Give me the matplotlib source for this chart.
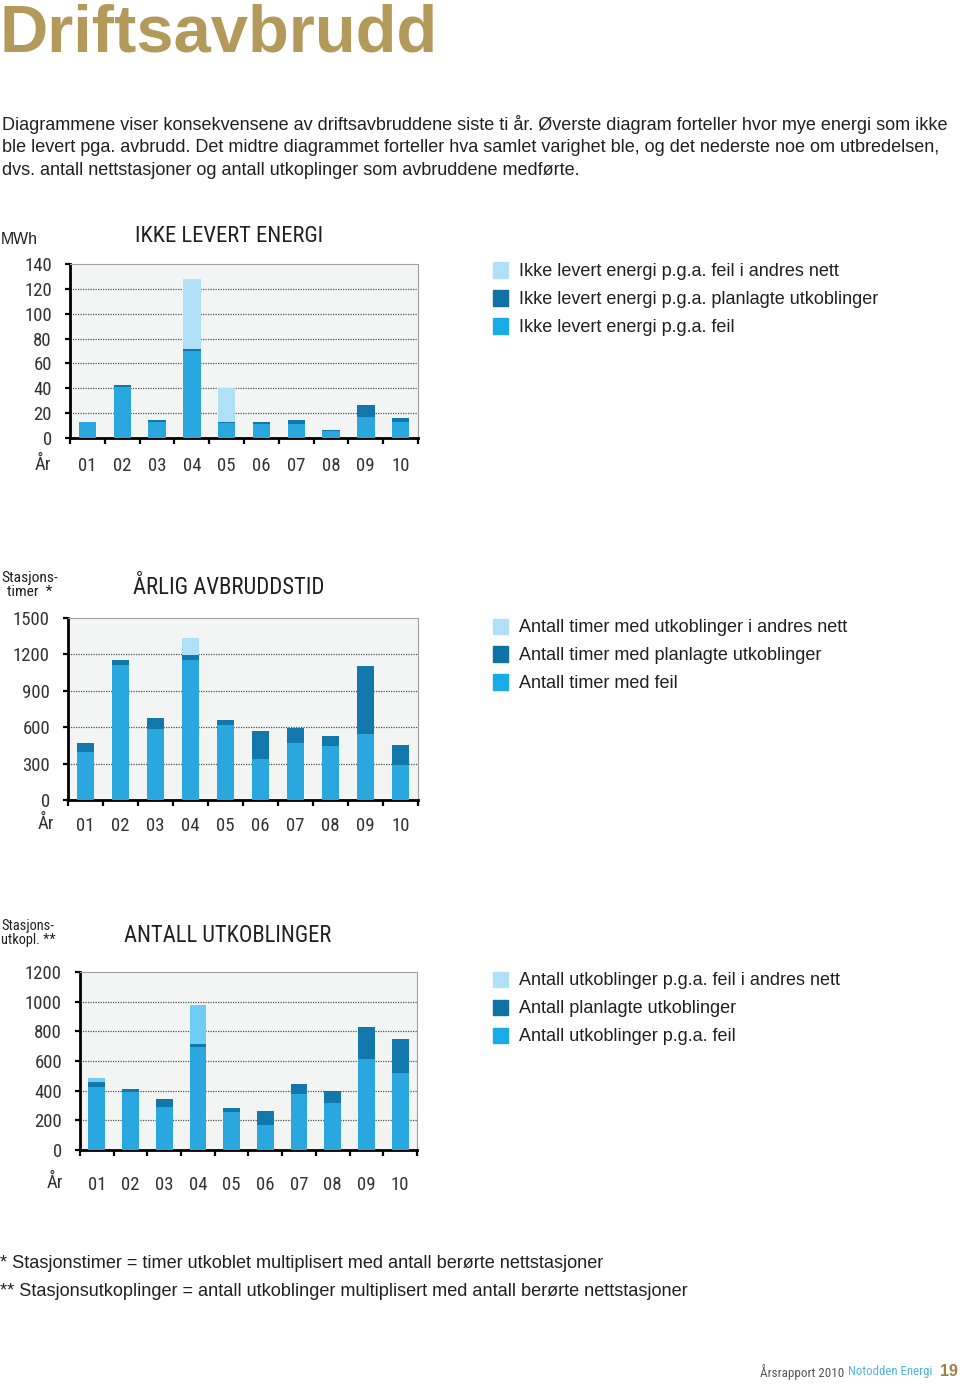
import matplotlib
matplotlib.use("Agg")
import matplotlib.pyplot as plt
from matplotlib.patches import Rectangle
from matplotlib import font_manager as fm
import numpy as np

# ---------------- data ----------------
years = ['01', '02', '03', '04', '05', '06', '07', '08', '09', '10']

energy_feil = [12.5, 41.0, 12.8, 70.1, 11.8, 11.0, 11.5, 5.6, 17.1, 12.8]
energy_plan = [0.3, 1.3, 1.9, 1.3, 1.3, 1.9, 2.9, 1.1, 9.4, 3.5]
energy_andre = [0, 0, 0, 56.5, 26.8, 0, 0, 0, 0, 0]
energy_ticks = [0, 20, 40, 60, 80, 100, 120, 140]

hours_feil = [399, 1115, 584, 1150, 622, 339, 468, 449, 542, 286]
hours_plan = [74, 36, 88, 47, 41, 228, 124, 77, 559, 165]
hours_andre = [0, 0, 0, 138, 0, 0, 0, 0, 0, 0]
hours_ticks = [0, 300, 600, 900, 1200, 1500]

outages_feil = [422, 390, 292, 695, 253, 166, 379, 314, 612, 520]
outages_plan = [36, 22, 54, 22, 27, 96, 67, 81, 218, 231]
outages_andre = [25, 0, 0, 258, 0, 0, 0, 0, 0, 0]
outages_ticks = [0, 200, 400, 600, 800, 1000, 1200]

legend1 = ['Ikke levert energi p.g.a. feil i andres nett',
           'Ikke levert energi p.g.a. planlagte utkoblinger',
           'Ikke levert energi p.g.a. feil']
legend2 = ['Antall timer med utkoblinger i andres nett',
           'Antall timer med planlagte utkoblinger',
           'Antall timer med feil']
legend3 = ['Antall utkoblinger p.g.a. feil i andres nett',
           'Antall planlagte utkoblinger',
           'Antall utkoblinger p.g.a. feil']

# ---------------- fonts ----------------
REG = fm.FontProperties(family=['Liberation Sans', 'DejaVu Sans'])
REGB = fm.FontProperties(family=['Liberation Sans', 'DejaVu Sans'], weight='bold')


def find_narrow():
    best = None
    for f in fm.fontManager.ttflist:
        nm = f.name + ' ' + f.fname
        narrow = ('Narrow' in nm or 'Condensed' in nm or
                  f.stretch in ('condensed', 'semi-condensed', 'extra-condensed'))
        if not narrow:
            continue
        if 'Bold' in f.fname or 'Italic' in f.fname or 'Oblique' in f.fname or 'Mono' in f.fname:
            continue
        if 'Serif' in f.fname:
            continue
        score = 0
        if 'Liberation' in nm:
            score = 3
        elif 'Roboto' in nm or 'Open' in nm:
            score = 2
        elif 'DejaVu' in nm:
            score = 1
        if best is None or score > best[0]:
            best = (score, f.fname)
    if best:
        return fm.FontProperties(fname=best[1])
    return fm.FontProperties(family=['Liberation Sans', 'DejaVu Sans'])


NARROW = find_narrow()

# ---------------- style ----------------
W, H = 960, 1385
C_FEIL = '#2ba7df'
C_PLAN = '#1278ab'
C_ANDRE = '#afe0f7'
C_ANDRE3 = '#6fcdf4'
L_FEIL = '#18abe8'
L_PLAN = '#0f72a5'
L_ANDRE = '#b0e0f8'
TXT = '#231f20'

fig = plt.figure(figsize=(W / 100, H / 100), dpi=100)
fig.patch.set_facecolor('white')
renderer = fig.canvas.get_renderer()


def fx(px):
    return px / W


def fy(py):
    return 1 - py / H


def px2pt(p):
    return p * 72 / 100


def fit(t, target_w, max_size=None):
    w = t.get_window_extent(renderer=renderer).width
    s = t.get_fontsize() * target_w / w
    if max_size:
        s = min(s, max_size)
    t.set_fontsize(s)
    return t


def make_chart(box, feil, plan, andre, c_andre, ticks, title, title_x, title_w, title_y,
               ylab, ylab_font, ylab_w, ylab_y, xlab_pad, ar_xy, legend, legend_y):
    l, t, r, b = box
    ax = fig.add_axes([fx(l), fy(b), fx(r - l), (b - t) / H])
    ax.set_facecolor('#f3f4f4')
    x = np.arange(len(years))
    feil = np.array(feil, float)
    plan = np.array(plan, float)
    andre = np.array(andre, float)
    ax.bar(x, feil, width=0.5, color=C_FEIL, zorder=3)
    ax.bar(x, plan, width=0.5, bottom=feil, color=C_PLAN, zorder=3)
    ax.bar(x, andre, width=0.5, bottom=feil + plan, color=c_andre, zorder=3)
    ax.set_xlim(-0.5, len(years) - 0.5)
    ax.set_ylim(ticks[0], ticks[-1])
    ax.set_yticks(ticks)
    ax.set_yticklabels([str(v) for v in ticks], fontproperties=NARROW, fontsize=13.5, color='#333333')
    for v in ticks[1:-1]:
        ax.axhline(v, color='#555555', lw=0.9, ls=(0, (1, 1)), zorder=1)
    ax.set_xticks(x)
    ax.set_xticklabels(years, fontproperties=NARROW, fontsize=13.5, color='#333333')
    ax.set_xticks(np.arange(-0.5, len(years), 1.0), minor=True)
    ax.tick_params(axis='x', which='major', length=0, pad=px2pt(xlab_pad))
    ax.tick_params(axis='x', which='minor', length=px2pt(6), width=1.6,
                   direction='out', color='black')
    ax.tick_params(axis='y', length=px2pt(5), width=1.6, direction='out',
                   color='black', pad=px2pt(13))
    for s in ['top', 'right']:
        ax.spines[s].set_color('#a0a0a0')
        ax.spines[s].set_linewidth(0.8)
    for s in ['left', 'bottom']:
        ax.spines[s].set_color('black')
        ax.spines[s].set_linewidth(2.0)
    tt = fig.text(fx(title_x), fy(title_y), title, fontproperties=NARROW,
                  fontsize=19, color=TXT, va='center', ha='left')
    fit(tt, title_w, max_size=20)
    yl = fig.text(fx(1), fy(ylab_y), ylab, fontproperties=ylab_font,
                  fontsize=12.5, color=TXT, va='center', ha='left', multialignment='center',
                  linespacing=1.05)
    fit(yl, ylab_w, max_size=13)
    fig.text(fx(ar_xy[0]), fy(ar_xy[1]), 'År', fontproperties=NARROW,
             fontsize=13.5, color='#333333', va='center', ha='center')
    cols = [L_ANDRE, L_PLAN, L_FEIL]
    for i, (lab, c) in enumerate(zip(legend, cols)):
        yy = legend_y + 28 * i
        fig.patches.append(Rectangle((fx(493), fy(yy + 7.5)), fx(15), 15 / H,
                                     transform=fig.transFigure, color=c))
        fig.text(fx(519), fy(yy + 1.5), lab, fontproperties=REG, fontsize=13.0,
                 color=TXT, va='center', ha='left')
    return ax


# header
hd = fig.text(fx(0), fy(34), 'Driftsavbrudd', fontproperties=REGB,
              fontsize=47, color='#b39a5b', va='center', ha='left')
fit(hd, 438)

para = ('Diagrammene viser konsekvensene av driftsavbruddene siste ti år. Øverste diagram forteller hvor mye energi som ikke\n'
        'ble levert pga. avbrudd. Det midtre diagrammet forteller hva samlet varighet ble, og det nederste noe om utbredelsen,\n'
        'dvs. antall nettstasjoner og antall utkoplinger som avbruddene medførte.')
pt = fig.text(fx(2), fy(147), para, fontproperties=REG, fontsize=13.0, color=TXT,
              va='center', ha='left', linespacing=1.45)
fit(pt, 945)

make_chart((70, 264, 418, 438), energy_feil, energy_plan, energy_andre, C_ANDRE,
           energy_ticks, 'IKKE LEVERT ENERGI', 135, 188, 236, 'MWh', REG, 37, 240,
           19, (43, 465), legend1, 270)
make_chart((68, 618, 418, 800), hours_feil, hours_plan, hours_andre, C_ANDRE,
           hours_ticks, 'ÅRLIG AVBRUDDSTID', 133, 192, 588, 'Stasjons-\ntimer  *', NARROW, 57, 585,
           17, (46, 824), legend2, 626)
make_chart((80, 972, 417, 1150), outages_feil, outages_plan, outages_andre, C_ANDRE3,
           outages_ticks, 'ANTALL UTKOBLINGER', 124, 207, 936, 'Stasjons-\nutkopl. **', NARROW, 55, 933,
           26, (55, 1183), legend3, 979)

f1 = fig.text(fx(0), fy(1264), '* Stasjonstimer = timer utkoblet multiplisert med antall berørte nettstasjoner',
              fontproperties=REG, fontsize=13.0, color=TXT, va='center', ha='left')
f2 = fig.text(fx(0), fy(1292), '** Stasjonsutkoplinger = antall utkoblinger multiplisert med antall berørte nettstasjoner',
              fontproperties=REG, fontsize=13.0, color=TXT, va='center', ha='left')
fit(f2, 688)
f1.set_fontsize(f2.get_fontsize())

# footer
n19 = fig.text(fx(958), fy(1372), '19', fontproperties=REGB, fontsize=11.5,
               color='#9c8144', va='center', ha='right')
t2 = fig.text(fx(932), fy(1372), 'Notodden Energi', fontproperties=NARROW, fontsize=12,
              color='#4fb3de', va='center', ha='right')
fit(t2, 84, max_size=13)
t1 = fig.text(fx(760), fy(1372), 'Årsrapport 2010', fontproperties=NARROW, fontsize=12,
              color='#555555', va='center', ha='left')
fit(t1, 83, max_size=13)

fig.savefig('out.png', dpi=100, facecolor='white')
